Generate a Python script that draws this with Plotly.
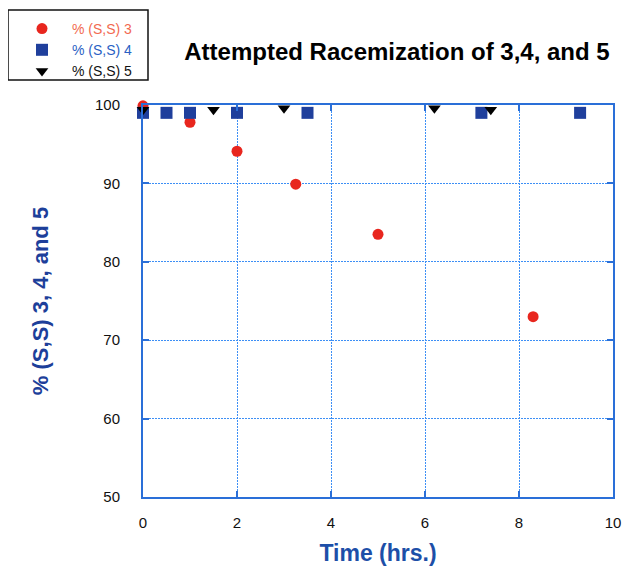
import plotly.graph_objects as go

# Data
t3 = [0, 1, 2, 3.25, 5, 8.3]
s3 = [99.9, 97.8, 94.1, 89.9, 83.5, 73.0]

t4 = [0, 0.5, 1.0, 2.0, 3.5, 7.2, 9.3]
s4 = [99.0, 99.0, 99.0, 99.0, 99.0, 99.0, 99.0]

t5 = [0, 1.5, 3.0, 6.2, 7.4]
s5 = [99.4, 99.4, 99.6, 99.6, 99.4]

x_ticks = [0, 2, 4, 6, 8, 10]
y_ticks = [50, 60, 70, 80, 90, 100]

# page has an 8px body margin; compensate
OFF = 8
W, H = 631 - OFF, 566 - OFF
ML = 143 - OFF
MT = 105 - OFF
MR = W - (613 - OFF)
MB = H - (497 - OFF)
PW, PH = W - ML - MR, H - MT - MB


def px_x(p):
    return (p - OFF - ML) / PW


def px_y(p):
    return 1 - (p - OFF - MT) / PH


fig = go.Figure()
fig.add_trace(go.Scatter(
    x=t3, y=s3, mode="markers",
    name='<span style="color:#f26a50">% (S,S) 3</span>',
    marker=dict(symbol="circle", size=11, color="#e8261e"),
    cliponaxis=False))
fig.add_trace(go.Scatter(
    x=t4, y=s4, mode="markers",
    name='<span style="color:#2a5fc4">% (S,S) 4</span>',
    marker=dict(symbol="square", size=12, color="#1f3f9c"),
    cliponaxis=False))
fig.add_trace(go.Scatter(
    x=t5, y=s5, mode="markers",
    name='<span style="color:#111111">% (S,S) 5</span>',
    marker=dict(symbol="triangle-down", size=11, color="#000000"),
    cliponaxis=False))

axis_common = dict(
    showgrid=True, gridcolor="#3d8ff5", griddash="2px,1px", gridwidth=1.2,
    showline=True, linecolor="#2a6fd8", linewidth=2, mirror="ticks",
    ticks="inside", ticklen=6, tickcolor="#2a6fd8", tickwidth=1.5,
    zeroline=False, automargin=False,
    tickfont=dict(family="Liberation Sans, Arial", size=15, color="#111111"),
)

fig.update_xaxes(
    range=[0, 10], tickvals=x_ticks, ticklabelstandoff=11,
    title=dict(text="<b>Time (hrs.)</b>", standoff=16,
               font=dict(family="Liberation Sans, Arial", size=23, color="#1d4fa8")),
    **axis_common)
fig.update_yaxes(
    range=[50, 100], tickvals=y_ticks, ticklabelstandoff=18,
    title=dict(text="<b>% (S,S) 3, 4, and 5</b>", standoff=40,
               font=dict(family="Liberation Sans, Arial", size=22, color="#1d3f9a")),
    **axis_common)

fig.add_shape(type="rect", xref="paper", yref="paper",
              x0=px_x(8), x1=px_x(148), y0=px_y(80), y1=px_y(10),
              line=dict(color="#111111", width=1.5), fillcolor="rgba(0,0,0,0)")

fig.update_layout(
    width=W, height=H,
    margin=dict(l=ML, r=MR, t=MT, b=MB, autoexpand=False),
    paper_bgcolor="white", plot_bgcolor="white",
    title=dict(text="<b>Attempted Racemization of 3,4, and 5</b>",
               x=(397 - OFF) / W, xanchor="center", y=1 - (52 - OFF) / H, yanchor="middle",
               font=dict(family="Liberation Sans, Arial", size=24, color="#000000")),
    legend=dict(
        x=px_x(12), y=px_y(13), xanchor="left", yanchor="top",
        borderwidth=0, bgcolor="rgba(0,0,0,0)",
        font=dict(family="Liberation Sans, Arial", size=14),
        itemwidth=50, tracegroupgap=0,
    ),
    showlegend=True,
)

fig.write_html("out.html")
